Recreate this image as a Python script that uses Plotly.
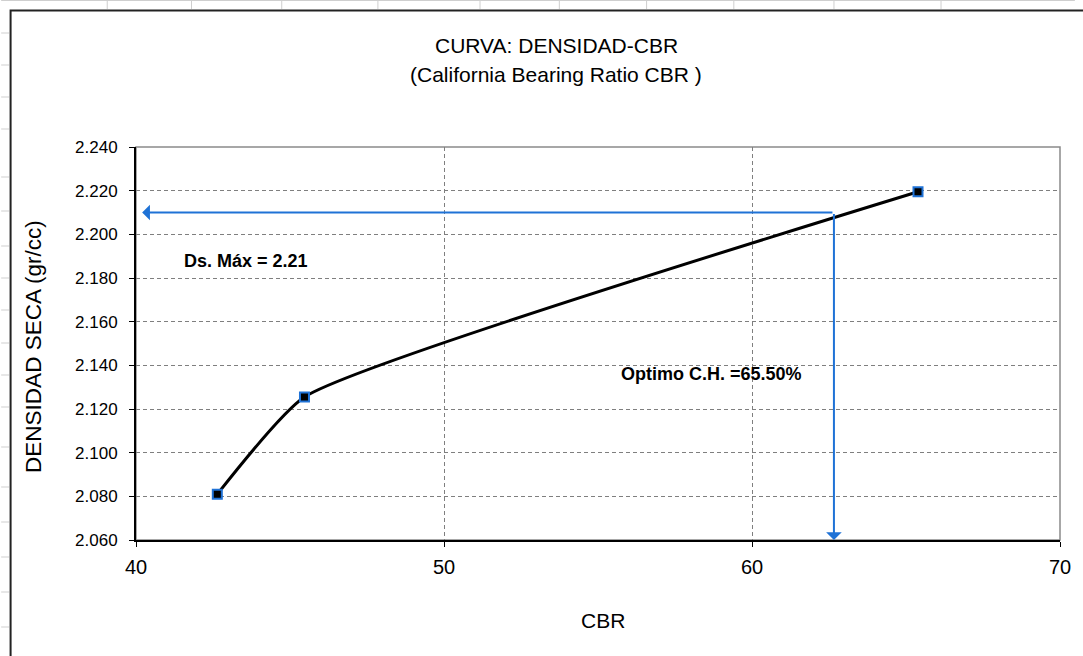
import plotly.graph_objects as go

# Compaction results: CBR (%) against dry density (gr/cc)
cbr = [42.64, 45.47, 65.39]
densidad = [2.081, 2.1255, 2.2195]

# Reading lines for the maximum dry density
ds_max = 2.21
cbr_lectura = 62.66

x_ticks = [40, 50, 60, 70]
y_ticks = [2.06, 2.08, 2.10, 2.12, 2.14, 2.16, 2.18, 2.20, 2.22, 2.24]

titulo = "CURVA: DENSIDAD-CBR"
subtitulo = "(California Bearing Ratio CBR )"
eje_x = "CBR"
eje_y = "DENSIDAD SECA (gr/cc)"
txt_ds = "Ds. Máx = 2.21"
txt_opt = "Optimo C.H. =65.50%"

W, H = 1083, 656
L, R, T, B = 136, 1068, 147, 540
AZUL = "#1f72d6"
FONT = "Liberation Sans, Arial, sans-serif"


def px(x):
    return (x - L) / (R - L)


def py(y):
    return (B - y) / (B - T)


fig = go.Figure()
fig.add_trace(go.Scatter(
    x=cbr, y=densidad, mode="lines+markers",
    line=dict(color="black", width=3, shape="spline", smoothing=0.45),
    marker=dict(symbol="square", size=9, color="black",
                line=dict(color=AZUL, width=2)),
    cliponaxis=False, showlegend=False, hoverinfo="x+y",
))

shapes = []
# spreadsheet cells around the chart object
cell_line = dict(color="#cfcfcf", width=1)
shapes.append(dict(type="line", xref="paper", yref="paper",
                   x0=px(0), x1=px(W), y0=py(0.5), y1=py(0.5), line=cell_line))
for cx in [107, 192, 283, 380, 483, 563, 651, 739, 840, 948]:
    shapes.append(dict(type="line", xref="paper", yref="paper",
                       x0=px(cx), x1=px(cx), y0=py(0), y1=py(9), line=cell_line))
for ry in [33, 65, 97, 129, 177, 211, 246, 278, 310, 343, 375, 407, 447,
           487, 522, 557, 592, 627]:
    shapes.append(dict(type="line", xref="paper", yref="paper",
                       x0=px(0), x1=px(8), y0=py(ry), y1=py(ry), line=cell_line))
# chart object border
shapes.append(dict(type="rect", xref="paper", yref="paper",
                   x0=px(9.5), x1=px(W + 20), y0=py(H + 20), y1=py(10.5),
                   line=dict(color="#222222", width=2)))
# plot area frame
shapes.append(dict(type="rect", xref="paper", yref="paper",
                   x0=0, x1=1, y0=0, y1=1, layer="below",
                   line=dict(color="#8a8a8a", width=1.5)))

annotations = [
    dict(xref="paper", yref="paper", x=px(560), y=py(45), text=titulo,
         showarrow=False, font=dict(family=FONT, size=21, color="black"),
         xanchor="center", yanchor="middle"),
    dict(xref="paper", yref="paper", x=px(560), y=py(75), text=subtitulo,
         showarrow=False, font=dict(family=FONT, size=21, color="black"),
         xanchor="center", yanchor="middle"),
    dict(xref="paper", yref="paper", x=px(607), y=py(620), text=eje_x,
         showarrow=False, font=dict(family=FONT, size=21, color="black"),
         xanchor="center", yanchor="middle"),
    dict(xref="paper", yref="paper", x=px(32), y=py(346), text=eje_y,
         showarrow=False, textangle=-90,
         font=dict(family=FONT, size=22.5, color="black"),
         xanchor="center", yanchor="middle"),
    dict(xref="x", yref="y", x=43.57, y=2.1878, text=f"<b>{txt_ds}</b>",
         showarrow=False, font=dict(family=FONT, size=18, color="black"),
         xanchor="center", yanchor="middle"),
    dict(xref="x", yref="y", x=58.67, y=2.136, text=f"<b>{txt_opt}</b>",
         showarrow=False, font=dict(family=FONT, size=18, color="black"),
         xanchor="center", yanchor="middle"),
    # reading arrows
    dict(xref="x", yref="y", axref="x", ayref="y",
         x=40.2, y=ds_max, ax=cbr_lectura, ay=ds_max, text="",
         showarrow=True, arrowhead=1, arrowsize=1.3, arrowwidth=2,
         arrowcolor=AZUL),
    dict(xref="x", yref="y", axref="x", ayref="y",
         x=cbr_lectura, y=y_ticks[0], ax=cbr_lectura, ay=ds_max, text="",
         showarrow=True, arrowhead=1, arrowsize=1.3, arrowwidth=2,
         arrowcolor=AZUL),
]

fig.update_layout(
    width=W, height=H,
    margin=dict(l=L, r=W - R, t=T, b=H - B, pad=0),
    paper_bgcolor="white", plot_bgcolor="white",
    font=dict(family=FONT, color="black"),
    shapes=shapes, annotations=annotations,
    xaxis=dict(range=[40, 70], tickvals=x_ticks, ticktext=[str(v) for v in x_ticks],
               showgrid=True, gridcolor="#7f7f7f", gridwidth=1, griddash="4px,3px",
               showline=True, linecolor="black", linewidth=2,
               ticks="outside", ticklen=5, tickwidth=1, tickcolor="black",
               tickfont=dict(family=FONT, size=20, color="black"),
               ticklabelstandoff=3,
               zeroline=False, fixedrange=True),
    yaxis=dict(range=[2.06, 2.24], tickvals=y_ticks, tickformat=".3f",
               showgrid=True, gridcolor="#7f7f7f", gridwidth=1, griddash="4px,3px",
               showline=True, linecolor="black", linewidth=2,
               ticks="outside", ticklen=5, tickwidth=1, tickcolor="black",
               tickfont=dict(family=FONT, size=17, color="black"),
               ticklabelstandoff=8,
               zeroline=False, fixedrange=True),
)

fig.write_html("out.html")
